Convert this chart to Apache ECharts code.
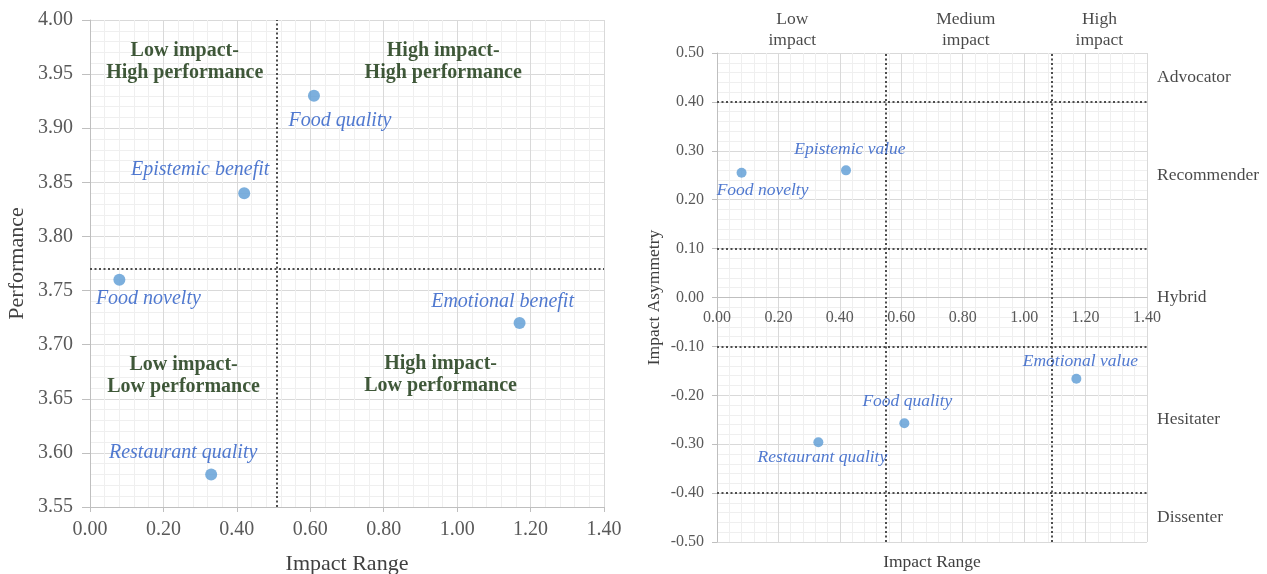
<!DOCTYPE html>
<html>
<head>
<meta charset="utf-8">
<script src="https://cdn.jsdelivr.net/npm/echarts@6/dist/echarts.min.js"></script>
<style>
  html, body { margin: 0; padding: 0; background: #ffffff; }
  #chart { width: 1267px; height: 574px; }
</style>
</head>
<body>
<div id="chart"></div>
<script>
// ---- Impact-range / performance map (left) ----
const leftNames = ['Food quality', 'Epistemic benefit', 'Food novelty', 'Restaurant quality', 'Emotional benefit'];
const leftImpactRange = [0.61, 0.42, 0.08, 0.33, 1.17];
const leftPerformance = [3.93, 3.84, 3.76, 3.58, 3.72];
const leftCutRange = 0.505;
const leftCutPerformance = 3.77;
const quadrantNames = ['Low impact-\nHigh performance', 'High impact-\nHigh performance',
                       'Low impact-\nLow performance', 'High impact-\nLow performance'];
const quadrantRange = [0.258, 0.962, 0.255, 0.955];
const quadrantPerformance = [3.961, 3.961, 3.671, 3.672];

// ---- Impact-range / impact-asymmetry map (right) ----
const rightNames = ['Food novelty', 'Epistemic value', 'Food quality', 'Restaurant quality', 'Emotional value'];
const rightImpactRange = [0.08, 0.42, 0.61, 0.33, 1.17];
const rightAsymmetry = [0.255, 0.26, -0.257, -0.296, -0.166];
const rightCutRange = [0.55, 1.09];
const rightCutAsymmetry = [0.4, 0.1, -0.1, -0.4];
const impactBands = ['Low\nimpact', 'Medium\nimpact', 'High\nimpact'];
const impactBandRange = [0.245, 0.81, 1.245];
const impactBandLevel = 0.547;
const segmentNames = ['Advocator', 'Recommender', 'Hybrid', 'Hesitater', 'Dissenter'];
const segmentAsymmetry = [0.45, 0.25, 0.0, -0.25, -0.45];
const segmentRange = 1.4;

// label offsets (text centre relative to the marker), px
const leftLabelOffset = {
  'Food quality': [26, 25], 'Epistemic benefit': [-44, -23], 'Food novelty': [29, 19],
  'Restaurant quality': [-28, -22], 'Emotional benefit': [-17, -21]
};
const rightLabelOffset = {
  'Food novelty': [21, 18], 'Epistemic value': [4, -21], 'Food quality': [3, -22],
  'Restaurant quality': [4, 15], 'Emotional value': [4, -17]
};

const SERIF = "'Liberation Serif', 'Times New Roman', serif";
const TICK = '#595959';
const MAJOR = '#d9d9d9';
const MINOR = '#efefef';
const AXIS = '#bfbfbf';
const DOT = '#5b9bd5';
const LABEL_BLUE = '#2458c4';
const QUAD_GREEN = '#0f2e08';
const DOTTED = { type: [2, 2.5], color: '#4d4d4d', width: 2 };

// right plot geometry: the range axis sits on the zero line of the asymmetry axis
const RIGHT_TOP = 53, RIGHT_HEIGHT = 489;
const rightZeroOffset = -RIGHT_HEIGHT / 2;

function pointData(names, xs, ys, offsets) {
  return names.map((n, i) => ({
    name: n,
    value: [xs[i], ys[i]],
    label: { offset: offsets[n] }
  }));
}
function textData(names, xs, ys) {
  return names.map((n, i) => ({ name: n, value: [xs[i], ys[i]] }));
}
const fmt2 = v => Number(v).toFixed(2);

const chart = echarts.init(document.getElementById('chart'), null, { renderer: 'canvas' });

chart.setOption({
  animation: false,
  backgroundColor: '#ffffff',
  grid: [
    { left: 90, top: 20, width: 514, height: 487, containLabel: false, outerBoundsMode: 'none' },
    { left: 717, top: RIGHT_TOP, width: 430, height: RIGHT_HEIGHT, containLabel: false, outerBoundsMode: 'none' }
  ],
  xAxis: [
    {
      gridIndex: 0, type: 'value', min: 0, max: 1.4, interval: 0.2,
      name: 'Impact Range', nameLocation: 'middle', nameGap: 46,
      nameTextStyle: { fontFamily: SERIF, fontSize: 22, color: '#404040' },
      axisLine: { show: true, lineStyle: { color: AXIS, width: 1 } },
      axisTick: { show: true, length: 5, lineStyle: { color: AXIS } },
      axisLabel: { formatter: fmt2, fontFamily: SERIF, fontSize: 20, color: TICK, margin: 13 },
      splitLine: { show: true, lineStyle: { color: MAJOR, width: 1 } },
      minorTick: { show: true, splitNumber: 5, length: 0 },
      minorSplitLine: { show: true, lineStyle: { color: MINOR, width: 1 } }
    },
    {
      gridIndex: 1, type: 'value', min: 0, max: 1.4, interval: 0.2,
      position: 'bottom', offset: rightZeroOffset,
      name: 'Impact Range', nameLocation: 'middle', nameGap: 256,
      nameTextStyle: { fontFamily: SERIF, fontSize: 17.5, color: '#404040' },
      axisLine: { show: true, onZero: false, lineStyle: { color: AXIS, width: 1 } },
      axisTick: { show: false },
      axisLabel: { formatter: fmt2, fontFamily: SERIF, fontSize: 16, color: TICK, margin: 12 },
      splitLine: { show: true, lineStyle: { color: MAJOR, width: 1 } },
      minorTick: { show: true, splitNumber: 5, length: 0 },
      minorSplitLine: { show: true, lineStyle: { color: MINOR, width: 1 } }
    }
  ],
  yAxis: [
    {
      gridIndex: 0, type: 'value', min: 3.55, max: 4.0, interval: 0.05,
      name: 'Performance', nameLocation: 'middle', nameGap: 62,
      nameTextStyle: { fontFamily: SERIF, fontSize: 22, color: '#404040' },
      axisLine: { show: true, lineStyle: { color: AXIS, width: 1 } },
      axisTick: { show: true, length: 8, lineStyle: { color: AXIS } },
      axisLabel: { formatter: fmt2, fontFamily: SERIF, fontSize: 20, color: TICK, margin: 17 },
      splitLine: { show: true, lineStyle: { color: MAJOR, width: 1 } },
      minorTick: { show: true, splitNumber: 5, length: 0 },
      minorSplitLine: { show: true, lineStyle: { color: MINOR, width: 1 } }
    },
    {
      gridIndex: 1, type: 'value', min: -0.5, max: 0.5, interval: 0.1,
      name: 'Impact Asymmetry', nameLocation: 'middle', nameGap: 54,
      nameTextStyle: { fontFamily: SERIF, fontSize: 17.5, color: '#404040' },
      axisLine: { show: true, onZero: false, lineStyle: { color: AXIS, width: 1 } },
      axisTick: { show: true, length: 5, lineStyle: { color: AXIS } },
      axisLabel: { formatter: fmt2, fontFamily: SERIF, fontSize: 16, color: TICK, margin: 13 },
      splitLine: { show: true, lineStyle: { color: MAJOR, width: 1 } },
      minorTick: { show: true, splitNumber: 5, length: 0 },
      minorSplitLine: { show: true, lineStyle: { color: MINOR, width: 1 } }
    }
  ],
  series: [
    // left: attributes
    {
      type: 'scatter', xAxisIndex: 0, yAxisIndex: 0, z: 5,
      symbolSize: 12, itemStyle: { color: DOT },
      data: pointData(leftNames, leftImpactRange, leftPerformance, leftLabelOffset),
      label: {
        show: true, position: 'inside', formatter: p => p.name,
        fontFamily: SERIF, fontStyle: 'italic', fontSize: 20, color: LABEL_BLUE
      },
      emphasis: { disabled: true }, silent: true,
      markLine: {
        silent: true, symbol: ['none', 'none'], label: { show: false },
        lineStyle: DOTTED,
        data: [{ xAxis: leftCutRange }, { yAxis: leftCutPerformance }]
      }
    },
    // left: quadrant captions
    {
      type: 'scatter', xAxisIndex: 0, yAxisIndex: 0, symbolSize: 0, z: 4,
      data: textData(quadrantNames, quadrantRange, quadrantPerformance),
      label: {
        show: true, position: 'inside', formatter: p => p.name,
        fontFamily: SERIF, fontWeight: 'bold', fontSize: 20, lineHeight: 22, color: QUAD_GREEN
      },
      emphasis: { disabled: true }, silent: true
    },
    // right: attributes
    {
      type: 'scatter', xAxisIndex: 1, yAxisIndex: 1, z: 5,
      symbolSize: 10, itemStyle: { color: DOT },
      data: pointData(rightNames, rightImpactRange, rightAsymmetry, rightLabelOffset),
      label: {
        show: true, position: 'inside', formatter: p => p.name,
        fontFamily: SERIF, fontStyle: 'italic', fontSize: 17.5, color: LABEL_BLUE
      },
      emphasis: { disabled: true }, silent: true,
      markLine: {
        silent: true, symbol: ['none', 'none'], label: { show: false },
        lineStyle: DOTTED,
        data: rightCutRange.map(v => ({ xAxis: v }))
          .concat(rightCutAsymmetry.map(v => ({ yAxis: v })))
      }
    },
    // right: impact bands above the plot
    {
      type: 'scatter', xAxisIndex: 1, yAxisIndex: 1, symbolSize: 0, clip: false,
      data: textData(impactBands, impactBandRange, impactBands.map(() => impactBandLevel)),
      label: {
        show: true, position: 'inside', formatter: p => p.name,
        fontFamily: SERIF, fontSize: 17.5, lineHeight: 21, color: '#1a1a1a'
      },
      emphasis: { disabled: true }, silent: true
    },
    // right: segment names beside the plot
    {
      type: 'scatter', xAxisIndex: 1, yAxisIndex: 1, symbolSize: 0, clip: false,
      data: textData(segmentNames, segmentNames.map(() => segmentRange), segmentAsymmetry),
      label: {
        show: true, position: 'right', distance: 10, formatter: p => p.name,
        fontFamily: SERIF, fontSize: 17.5, color: '#1a1a1a'
      },
      emphasis: { disabled: true }, silent: true
    }
  ]
});
</script>
</body>
</html>
